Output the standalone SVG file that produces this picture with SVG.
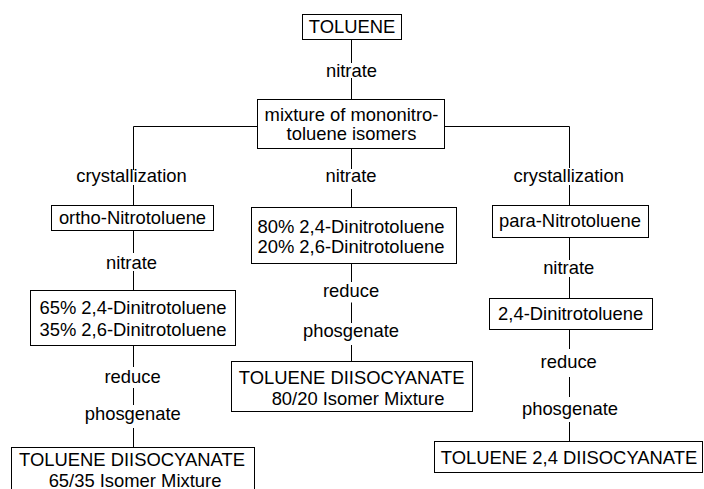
<svg xmlns="http://www.w3.org/2000/svg" width="704" height="489" viewBox="0 0 704 489">
<style>
  .box { fill: #ffffff; stroke: #000000; stroke-width: 1; }
  .ln { fill: none; stroke: #000000; stroke-width: 1; }
  text { font-family: "Liberation Sans", Arial, sans-serif; font-size: 18.4px; fill: #000000; text-anchor: middle; }
</style>
<rect width="704" height="489" fill="#ffffff"/>
<g id="connectors">
  <path class="ln" d="M351.5 39.5 V63 M351.5 78 V99.5"/>
  <path class="ln" d="M257.5 126.5 H133.5 V170 M444.5 126.5 H569.5 V168"/>
  <path class="ln" d="M351.5 148.5 V169 M351.5 189 V207.5"/>
  <path class="ln" d="M133.5 185 V205.5 M133.5 230.5 V253 M133.5 271 V290.5 M133.5 345.5 V367 M133.5 388 V405 M133.5 428 V447.5"/>
  <path class="ln" d="M351.5 263.5 V282 M351.5 302.5 V323 M351.5 345 V361.5"/>
  <path class="ln" d="M569.5 185 V205.5 M569.5 237.5 V260 M569.5 277 V298.5 M569.5 329.5 V349 M569.5 377 V397 M569.5 422 V441.5"/>
</g>
<g id="n-toluene">
  <rect class="box" x="302.5" y="14.5" width="99" height="25"/>
  <text x="352" y="33.3">TOLUENE</text>
</g>
<g id="l-nitrate-1"><text x="351.5" y="76.7">nitrate</text></g>
<g id="n-mixture">
  <rect class="box" x="257.5" y="99.5" width="187" height="49"/>
  <text x="351.5" y="120.5">mixture of mononitro-</text>
  <text x="351.5" y="140">toluene isomers</text>
</g>
<g id="l-cryst-left"><text x="131.5" y="181.5">crystallization</text></g>
<g id="l-nitrate-mid"><text x="351" y="181.7">nitrate</text></g>
<g id="l-cryst-right"><text x="568.7" y="181.5">crystallization</text></g>
<g id="n-ortho">
  <rect class="box" x="51.5" y="205.5" width="162" height="25"/>
  <text x="132.5" y="223.5">ortho-Nitrotoluene</text>
</g>
<g id="n-8020">
  <rect class="box" x="251.5" y="207.5" width="205" height="56"/>
  <text x="351" y="233.3">80% 2,4-Dinitrotoluene</text>
  <text x="351" y="252.5">20% 2,6-Dinitrotoluene</text>
</g>
<g id="n-para">
  <rect class="box" x="492.5" y="205.5" width="156" height="32"/>
  <text x="570" y="226.7">para-Nitrotoluene</text>
</g>
<g id="l-nitrate-left"><text x="131.5" y="269">nitrate</text></g>
<g id="l-nitrate-right"><text x="568.7" y="274">nitrate</text></g>
<g id="n-6535">
  <rect class="box" x="30.5" y="290.5" width="205" height="55"/>
  <text x="133" y="314">65% 2,4-Dinitrotoluene</text>
  <text x="133" y="335.5">35% 2,6-Dinitrotoluene</text>
</g>
<g id="l-reduce-mid"><text x="351" y="296.7">reduce</text></g>
<g id="n-24dnt">
  <rect class="box" x="489.5" y="298.5" width="163" height="31"/>
  <text x="570.7" y="320">2,4-Dinitrotoluene</text>
</g>
<g id="l-phos-mid"><text x="351" y="336.7">phosgenate</text></g>
<g id="n-tdi-8020">
  <rect class="box" x="231.5" y="361.5" width="241" height="50"/>
  <text x="351.7" y="384">TOLUENE DIISOCYANATE</text>
  <text x="358" y="405">80/20 Isomer Mixture</text>
</g>
<g id="l-reduce-right"><text x="568.7" y="367.5">reduce</text></g>
<g id="l-reduce-left"><text x="132.5" y="383.3">reduce</text></g>
<g id="l-phos-right"><text x="570" y="415">phosgenate</text></g>
<g id="l-phos-left"><text x="132.8" y="420">phosgenate</text></g>
<g id="n-tdi-24">
  <rect class="box" x="434.5" y="441.5" width="268" height="31"/>
  <text x="569" y="464">TOLUENE 2,4 DIISOCYANATE</text>
</g>
<g id="n-tdi-6535">
  <rect class="box" x="11.5" y="447.5" width="243" height="60"/>
  <text x="132" y="466">TOLUENE DIISOCYANATE</text>
  <text x="135" y="486.5">65/35 Isomer Mixture</text>
</g>
</svg>
